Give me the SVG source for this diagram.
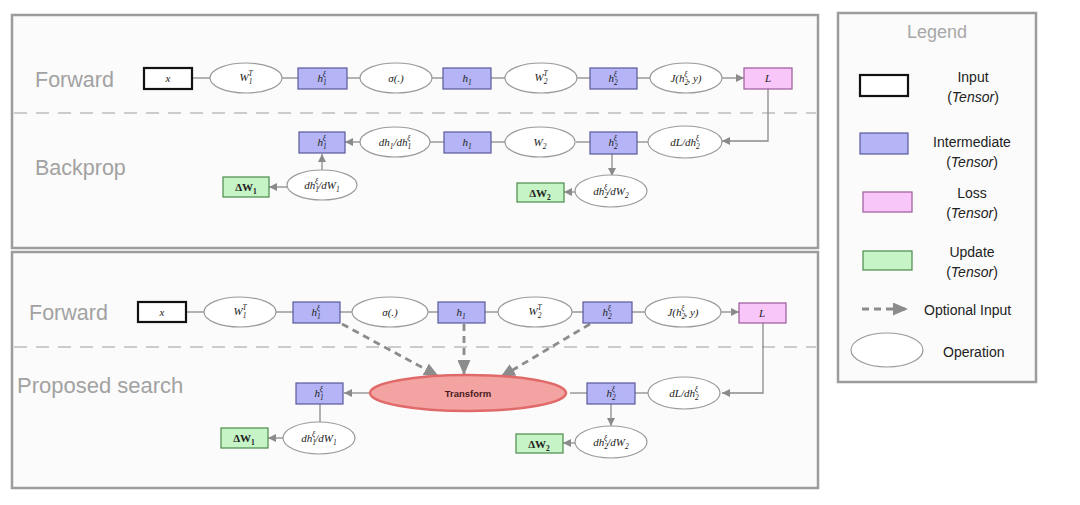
<svg xmlns="http://www.w3.org/2000/svg" width="1080" height="505" viewBox="0 0 1080 505">
<style>
.panel{fill:#fbfbfb;stroke:#9c9c9c;stroke-width:2.5}
.sep{stroke:#cccccc;stroke-width:2;stroke-dasharray:13 9;fill:none}
.sec{font-family:"Liberation Sans",Arial,sans-serif;font-size:21.5px;fill:#a2a2a2}
.op{fill:#ffffff;stroke:#9a9a9a;stroke-width:1.2}
.inp{fill:#ffffff;stroke:#111111;stroke-width:2.2}
.mid{fill:#b4b4f6;stroke:#5a5a9a;stroke-width:1.2}
.loss{fill:#f9c6f9;stroke:#9a5a9a;stroke-width:1.2}
.upd{fill:#c6f4c6;stroke:#4a8a4a;stroke-width:1.2}
.m{font-family:"Liberation Serif","DejaVu Serif",serif;font-style:italic;font-size:11px;text-anchor:middle;fill:#222222}
.b{font-weight:bold;font-style:normal}
.s{font-size:7.5px}
.c{stroke:#8a8a8a;stroke-width:1.3;fill:none}
.d{stroke:#8c8c8c;stroke-width:2.8;stroke-dasharray:7 5;fill:none}
.lg{font-family:"Liberation Sans",Arial,sans-serif;font-size:14px;fill:#222222;text-anchor:middle}
.lgs{font-family:"Liberation Sans",Arial,sans-serif;font-size:14px;fill:#222222;text-anchor:start}
.tr{fill:#f4a3a3;stroke:#e06a6a;stroke-width:2.5}
.tt{font-family:"Liberation Sans",Arial,sans-serif;font-weight:bold;font-size:9.5px;fill:#4a1a1a;text-anchor:middle}
</style>
<defs>
<marker id="a" markerUnits="userSpaceOnUse" markerWidth="8" markerHeight="8" refX="8" refY="4" orient="auto"><path d="M0,0 L8,4 L0,8 z" fill="#8a8a8a"/></marker>
<marker id="da" markerUnits="userSpaceOnUse" markerWidth="15" markerHeight="13" refX="14" refY="6.5" orient="auto"><path d="M0,0 L15,6.5 L0,13 z" fill="#8c8c8c"/></marker>
</defs>

<!-- panels -->
<g id="panel-top">
<rect class="panel" x="12" y="15" width="806" height="233"/>
<line class="sep" x1="14" y1="113" x2="816" y2="113"/>
<text class="sec" x="35" y="87">Forward</text>
<text class="sec" x="35" y="175">Backprop</text>
</g>
<g id="panel-bottom">
<rect class="panel" x="12" y="252" width="806" height="236"/>
<line class="sep" x1="14" y1="347" x2="816" y2="347"/>
<text class="sec" x="29" y="320">Forward</text>
<text class="sec" x="17" y="393" style="font-size:22px">Proposed search</text>
</g>

<!-- connectors -->
<g id="connectors">
<!-- top forward -->
<line class="c" x1="192" y1="78" x2="210" y2="78"/>
<line class="c" x1="282" y1="78" x2="298" y2="78"/>
<line class="c" x1="347" y1="78" x2="360" y2="78"/>
<line class="c" x1="432" y1="78" x2="443" y2="78"/>
<line class="c" x1="491" y1="78" x2="505" y2="78"/>
<line class="c" x1="577" y1="78" x2="590" y2="78"/>
<line class="c" x1="637" y1="78" x2="650" y2="78"/>
<line class="c" x1="722" y1="78" x2="744" y2="78" marker-end="url(#a)"/>
<polyline class="c" points="768,89 768,141 722,141" marker-end="url(#a)"/>
<!-- top backprop -->
<line class="c" x1="637" y1="142" x2="648" y2="142"/>
<line class="c" x1="576" y1="142" x2="590" y2="142"/>
<line class="c" x1="491" y1="142" x2="505" y2="142"/>
<line class="c" x1="430" y1="142" x2="444" y2="142"/>
<line class="c" x1="360" y1="142" x2="345" y2="142" marker-end="url(#a)"/>
<line class="c" x1="322" y1="170" x2="322" y2="154" marker-end="url(#a)"/>
<line class="c" x1="287" y1="187" x2="269" y2="187" marker-end="url(#a)"/>
<line class="c" x1="612" y1="154" x2="612" y2="176" marker-end="url(#a)"/>
<line class="c" x1="576" y1="192" x2="564" y2="192" marker-end="url(#a)"/>
<!-- bottom forward -->
<line class="c" x1="186" y1="312" x2="204" y2="312"/>
<line class="c" x1="276" y1="312" x2="293" y2="312"/>
<line class="c" x1="340" y1="312" x2="352" y2="312"/>
<line class="c" x1="428" y1="312" x2="438" y2="312"/>
<line class="c" x1="485" y1="312" x2="498" y2="312"/>
<line class="c" x1="572" y1="312" x2="583" y2="312"/>
<line class="c" x1="632" y1="312" x2="645" y2="312"/>
<line class="c" x1="721" y1="312" x2="739" y2="312" marker-end="url(#a)"/>
<polyline class="c" points="763,323 763,393 722,393" marker-end="url(#a)"/>
<!-- optional inputs -->
<line class="d" x1="342" y1="324" x2="438" y2="376" marker-end="url(#da)"/>
<line class="d" x1="464" y1="324" x2="464" y2="374" marker-end="url(#da)"/>
<line class="d" x1="590" y1="324" x2="501" y2="377" marker-end="url(#da)"/>
<!-- bottom backprop -->
<line class="c" x1="635" y1="393" x2="648" y2="393"/>
<line class="c" x1="587" y1="393" x2="570" y2="393"/>
<line class="c" x1="370" y1="393" x2="344" y2="393" marker-end="url(#a)"/>
<line class="c" x1="320" y1="404" x2="320" y2="422"/>
<line class="c" x1="283" y1="438" x2="268" y2="438" marker-end="url(#a)"/>
<line class="c" x1="611" y1="404" x2="611" y2="426" marker-end="url(#a)"/>
<line class="c" x1="576" y1="443" x2="563" y2="443" marker-end="url(#a)"/>
</g>

<!-- top forward nodes -->
<g id="t-x"><rect class="inp" x="144" y="68" width="48" height="21"/><text class="m" x="168" y="82">x</text></g>
<g id="t-w1t"><ellipse class="op" cx="246" cy="78" rx="36" ry="15"/><text class="m" x="246" y="81">W<tspan class="s" dy="2.5">1</tspan><tspan class="s" dx="-4" dy="-7.5">T</tspan></text></g>
<g id="t-h1x"><rect class="mid" x="298" y="68" width="49" height="21"/><text class="m" x="322" y="82">h<tspan class="s" dy="2.5">1</tspan><tspan class="s" dx="-4" dy="-7.5">ξ</tspan></text></g>
<g id="t-sig"><ellipse class="op" cx="396" cy="78" rx="36" ry="15"/><text class="m" x="396" y="82">σ(.)</text></g>
<g id="t-h1"><rect class="mid" x="443" y="68" width="48" height="21"/><text class="m" x="467" y="82">h<tspan class="s" dy="2.5">1</tspan></text></g>
<g id="t-w2t"><ellipse class="op" cx="541" cy="78" rx="36" ry="15"/><text class="m" x="541" y="81">W<tspan class="s" dy="2.5">2</tspan><tspan class="s" dx="-4" dy="-7.5">T</tspan></text></g>
<g id="t-h2x"><rect class="mid" x="590" y="68" width="47" height="21"/><text class="m" x="613" y="82">h<tspan class="s" dy="2.5">2</tspan><tspan class="s" dx="-4" dy="-7.5">ξ</tspan></text></g>
<g id="t-j"><ellipse class="op" cx="686" cy="78" rx="36" ry="15"/><text class="m" x="686" y="82">J(h<tspan class="s" dy="2.5">2</tspan><tspan class="s" dx="-4" dy="-7.5">ξ</tspan><tspan dy="5">, y)</tspan></text></g>
<g id="t-l"><rect class="loss" x="744" y="68" width="48" height="21"/><text class="m" x="768" y="82">L</text></g>

<!-- top backprop nodes -->
<g id="tb-h1x"><rect class="mid" x="299" y="132" width="46" height="21"/><text class="m" x="322" y="146">h<tspan class="s" dy="2.5">1</tspan><tspan class="s" dx="-4" dy="-7.5">ξ</tspan></text></g>
<g id="tb-dh1"><ellipse class="op" cx="395" cy="142" rx="35" ry="15"/><text class="m" x="395" y="146">dh<tspan class="s" dy="2.5">1</tspan><tspan dy="-2.5">/dh</tspan><tspan class="s" dy="2.5">1</tspan><tspan class="s" dx="-4" dy="-7.5">ξ</tspan></text></g>
<g id="tb-h1"><rect class="mid" x="444" y="132" width="47" height="21"/><text class="m" x="467" y="146">h<tspan class="s" dy="2.5">1</tspan></text></g>
<g id="tb-w2"><ellipse class="op" cx="540" cy="142" rx="35" ry="15"/><text class="m" x="540" y="146">W<tspan class="s" dy="2.5">2</tspan></text></g>
<g id="tb-h2x"><rect class="mid" x="590" y="132" width="47" height="22"/><text class="m" x="613" y="146">h<tspan class="s" dy="2.5">2</tspan><tspan class="s" dx="-4" dy="-7.5">ξ</tspan></text></g>
<g id="tb-dl"><ellipse class="op" cx="685" cy="142" rx="37" ry="16"/><text class="m" x="685" y="146">dL/dh<tspan class="s" dy="2.5">2</tspan><tspan class="s" dx="-4" dy="-7.5">ξ</tspan></text></g>
<g id="tb-dw1"><ellipse class="op" cx="322" cy="185" rx="35" ry="15"/><text class="m" x="322" y="189">dh<tspan class="s" dy="2.5">1</tspan><tspan class="s" dx="-4" dy="-7.5">ξ</tspan><tspan dy="5">/dW</tspan><tspan class="s" dy="2.5">1</tspan></text></g>
<g id="tb-uw1"><rect class="upd" x="223" y="177" width="46" height="20"/><text class="m b" x="246" y="191">ΔW<tspan class="s" dy="2.5">1</tspan></text></g>
<g id="tb-dw2"><ellipse class="op" cx="611" cy="191" rx="36" ry="16"/><text class="m" x="611" y="195">dh<tspan class="s" dy="2.5">2</tspan><tspan class="s" dx="-4" dy="-7.5">ξ</tspan><tspan dy="5">/dW</tspan><tspan class="s" dy="2.5">2</tspan></text></g>
<g id="tb-uw2"><rect class="upd" x="517" y="183" width="47" height="19"/><text class="m b" x="540" y="197">ΔW<tspan class="s" dy="2.5">2</tspan></text></g>

<!-- bottom forward nodes -->
<g id="b-x"><rect class="inp" x="138" y="302" width="48" height="20"/><text class="m" x="162" y="316">x</text></g>
<g id="b-w1t"><ellipse class="op" cx="240" cy="312" rx="36" ry="15"/><text class="m" x="240" y="315">W<tspan class="s" dy="2.5">1</tspan><tspan class="s" dx="-4" dy="-7.5">T</tspan></text></g>
<g id="b-h1x"><rect class="mid" x="293" y="302" width="47" height="21"/><text class="m" x="316" y="316">h<tspan class="s" dy="2.5">1</tspan><tspan class="s" dx="-4" dy="-7.5">ξ</tspan></text></g>
<g id="b-sig"><ellipse class="op" cx="390" cy="312" rx="38" ry="15"/><text class="m" x="390" y="316">σ(.)</text></g>
<g id="b-h1"><rect class="mid" x="438" y="302" width="47" height="21"/><text class="m" x="461" y="316">h<tspan class="s" dy="2.5">1</tspan></text></g>
<g id="b-w2t"><ellipse class="op" cx="535" cy="312" rx="37" ry="15"/><text class="m" x="535" y="315">W<tspan class="s" dy="2.5">2</tspan><tspan class="s" dx="-4" dy="-7.5">T</tspan></text></g>
<g id="b-h2x"><rect class="mid" x="583" y="302" width="49" height="21"/><text class="m" x="607" y="316">h<tspan class="s" dy="2.5">2</tspan><tspan class="s" dx="-4" dy="-7.5">ξ</tspan></text></g>
<g id="b-j"><ellipse class="op" cx="683" cy="312" rx="38" ry="15"/><text class="m" x="683" y="316">J(h<tspan class="s" dy="2.5">2</tspan><tspan class="s" dx="-4" dy="-7.5">ξ</tspan><tspan dy="5">, y)</tspan></text></g>
<g id="b-l"><rect class="loss" x="739" y="303" width="47" height="20"/><text class="m" x="762" y="317">L</text></g>

<!-- bottom search nodes -->
<g id="b-transform"><ellipse class="tr" cx="468" cy="393" rx="98" ry="18"/><text class="tt" x="468" y="397">Transform</text></g>
<g id="bb-h1x"><rect class="mid" x="296" y="383" width="47" height="21"/><text class="m" x="319" y="397">h<tspan class="s" dy="2.5">1</tspan><tspan class="s" dx="-4" dy="-7.5">ξ</tspan></text></g>
<g id="bb-dw1"><ellipse class="op" cx="319" cy="438" rx="36" ry="16"/><text class="m" x="319" y="442">dh<tspan class="s" dy="2.5">1</tspan><tspan class="s" dx="-4" dy="-7.5">ξ</tspan><tspan dy="5">/dW</tspan><tspan class="s" dy="2.5">1</tspan></text></g>
<g id="bb-uw1"><rect class="upd" x="221" y="428" width="47" height="20"/><text class="m b" x="244" y="442">ΔW<tspan class="s" dy="2.5">1</tspan></text></g>
<g id="bb-h2x"><rect class="mid" x="587" y="383" width="48" height="21"/><text class="m" x="611" y="397">h<tspan class="s" dy="2.5">2</tspan><tspan class="s" dx="-4" dy="-7.5">ξ</tspan></text></g>
<g id="bb-dl"><ellipse class="op" cx="684" cy="393" rx="36" ry="16"/><text class="m" x="684" y="397">dL/dh<tspan class="s" dy="2.5">2</tspan><tspan class="s" dx="-4" dy="-7.5">ξ</tspan></text></g>
<g id="bb-dw2"><ellipse class="op" cx="611" cy="442" rx="36" ry="16"/><text class="m" x="611" y="446">dh<tspan class="s" dy="2.5">2</tspan><tspan class="s" dx="-4" dy="-7.5">ξ</tspan><tspan dy="5">/dW</tspan><tspan class="s" dy="2.5">2</tspan></text></g>
<g id="bb-uw2"><rect class="upd" x="516" y="434" width="47" height="19"/><text class="m b" x="539" y="448">ΔW<tspan class="s" dy="2.5">2</tspan></text></g>

<!-- legend -->
<g id="legend">
<rect class="panel" x="838" y="13" width="198" height="369"/>
<text x="937" y="38" font-family="Liberation Sans,Arial,sans-serif" font-size="18" fill="#a8a8a8" text-anchor="middle">Legend</text>
<rect class="inp" x="860" y="75" width="48" height="21" stroke-width="2.5"/>
<text class="lg" x="973" y="82">Input</text>
<text class="lg" x="973" y="102">(<tspan font-style="italic">Tensor</tspan>)</text>
<rect class="mid" x="860" y="133" width="48" height="21"/>
<text class="lg" x="972" y="147">Intermediate</text>
<text class="lg" x="972" y="167">(<tspan font-style="italic">Tensor</tspan>)</text>
<rect class="loss" x="863" y="192" width="49" height="20"/>
<text class="lg" x="972" y="198">Loss</text>
<text class="lg" x="972" y="218">(<tspan font-style="italic">Tensor</tspan>)</text>
<rect class="upd" x="863" y="251" width="49" height="19"/>
<text class="lg" x="972" y="257">Update</text>
<text class="lg" x="972" y="277">(<tspan font-style="italic">Tensor</tspan>)</text>
<line class="d" x1="862" y1="309" x2="907" y2="309" marker-end="url(#da)"/>
<text class="lgs" x="924" y="315">Optional Input</text>
<ellipse class="op" cx="887" cy="350" rx="36" ry="17"/>
<text class="lgs" x="943" y="357">Operation</text>
</g>
</svg>
